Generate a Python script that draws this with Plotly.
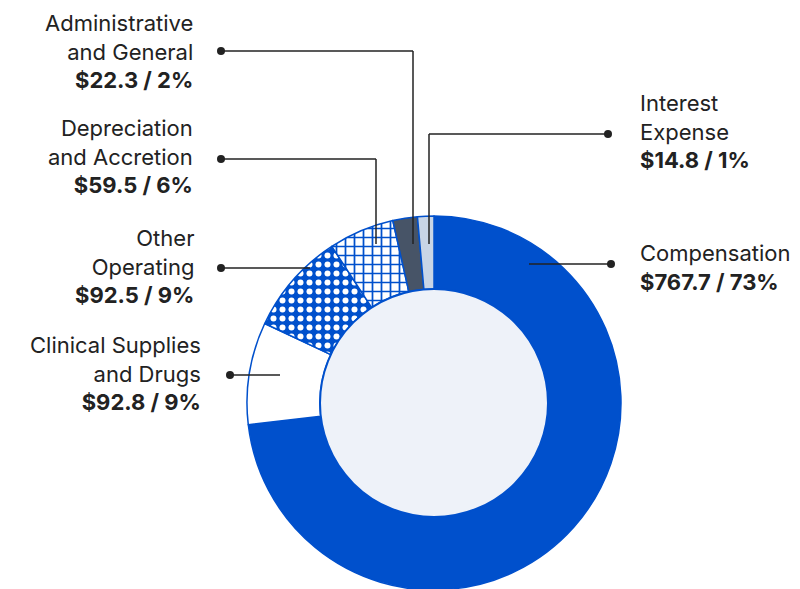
import plotly.graph_objects as go

labels = ["Compensation", "Clinical Supplies and Drugs", "Other Operating",
          "Depreciation and Accretion", "Administrative and General", "Interest Expense"]
values = [767.7, 92.8, 92.5, 59.5, 22.3, 14.8]
pcts = [73, 9, 9, 6, 2, 1]
colors = ["#0050cc", "#ffffff", "#0050cc", "#ffffff", "#475467", "#c8d5e6"]
pat_shapes = ["", "", ".", "+", "", ""]
pat_fg = ["#0050cc", "#0050cc", "#ffffff", "#0050cc", "#475467", "#c8d5e6"]

W, H = 800, 589
cx, cy, R, r = 426, 395, 187, 114

fig = go.Figure(go.Pie(
    labels=labels, values=values, sort=False, direction="clockwise", rotation=0,
    hole=r / R, textinfo="none", hoverinfo="label+value",
    marker=dict(colors=colors, line=dict(color="#0050cc", width=1.5),
                pattern=dict(shape=pat_shapes, fgcolor=pat_fg, bgcolor=colors,
                             size=9, solidity=0.35)),
    domain=dict(x=[(cx - R) / W, (cx + R) / W], y=[(H - cy - R) / H, (H - cy + R) / H]),
    showlegend=False,
))

def px(x): return x / W
def py(y): return 1 - y / H

shapes = [dict(type="circle", xref="paper", yref="paper",
               x0=px(cx - r), x1=px(cx + r), y0=py(cy + r), y1=py(cy - r),
               fillcolor="#eef2f9", line=dict(color="#0050cc", width=2))]
lines = [
    [(213, 43), (405, 43), (405, 236)],
    [(600, 126), (421, 126), (421, 236)],
    [(213, 151), (368, 151), (368, 236)],
    [(213, 260), (302, 260)],
    [(603, 256), (521, 256)],
    [(222, 367), (272, 367)],
]
for pts in lines:
    for (x0, y0), (x1, y1) in zip(pts[:-1], pts[1:]):
        shapes.append(dict(type="line", xref="paper", yref="paper",
                           x0=px(x0), y0=py(y0), x1=px(x1), y1=py(y1),
                           line=dict(color="#222222", width=1.5)))
    x, y = pts[0]
    shapes.append(dict(type="circle", xref="paper", yref="paper",
                       x0=px(x - 4), x1=px(x + 4), y0=py(y + 4), y1=py(y - 4),
                       fillcolor="#222222", line=dict(width=0)))

name_lines = ["Compensation", "Clinical Supplies<br>and Drugs", "Other<br>Operating",
              "Depreciation<br>and Accretion", "Administrative<br>and General",
              "Interest<br>Expense"]
pos = [(630, 230, "left"), (195, 322, "right"), (188, 215, "right"),
       (187, 105, "right"), (187, 0, "right"), (630, 80, "left")]
anns = []
for nm, v, p, (x, y, side) in zip(name_lines, values, pcts, pos):
    anns.append(dict(xref="paper", yref="paper", x=px(x), y=py(y),
                     xanchor=side, yanchor="top", align=side, showarrow=False,
                     text=f"{nm}<br><b>${v} / {p}%</b>",
                     font=dict(family="Inter", size=22, color="#222222")))

fig.update_layout(width=W, height=H, margin=dict(l=0, r=0, t=0, b=0),
                  paper_bgcolor="white", shapes=shapes, annotations=anns)
fig.write_html("out.html")
